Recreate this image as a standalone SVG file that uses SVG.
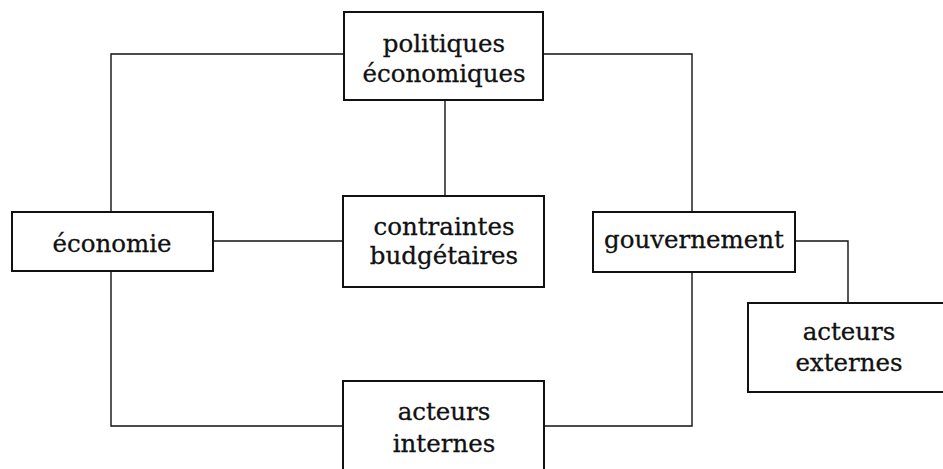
<svg xmlns="http://www.w3.org/2000/svg" width="943" height="469" viewBox="0 0 943 469">
<style>
.box{fill:#fff;stroke:#111;stroke-width:2}
.ln{fill:none;stroke:#111;stroke-width:1.4}
text{font-family:"DejaVu Serif","Liberation Serif",serif;font-size:24.5px;fill:#111;stroke:#111;stroke-width:0.3;text-anchor:middle}
</style>
<rect width="943" height="469" fill="#fff"/>
<g id="connectors">
<path class="ln" d="M344 54H111V212"/>
<path class="ln" d="M543 54H692V212"/>
<path class="ln" d="M445 100V196"/>
<path class="ln" d="M213 241H343"/>
<path class="ln" d="M111 271V426H343"/>
<path class="ln" d="M544 426H692V272"/>
<path class="ln" d="M795 241H848V303"/>
</g>
<g id="politiques">
<rect class="box" x="344" y="12" width="199" height="88"/>
<text x="444" y="52">politiques</text>
<text x="444" y="82">économiques</text>
</g>
<g id="contraintes">
<rect class="box" x="343" y="196" width="201" height="91"/>
<text x="444" y="235">contraintes</text>
<text x="444" y="264">budgétaires</text>
</g>
<g id="economie">
<rect class="box" x="12" y="212" width="201" height="59"/>
<text x="112" y="252">économie</text>
</g>
<g id="gouvernement">
<rect class="box" x="593" y="212" width="202" height="60"/>
<text x="694" y="248">gouvernement</text>
</g>
<g id="acteurs-externes">
<rect class="box" x="748" y="303" width="210" height="89"/>
<text x="849" y="340">acteurs</text>
<text x="849" y="371">externes</text>
</g>
<g id="acteurs-internes">
<rect class="box" x="343" y="381" width="201" height="100"/>
<text x="444" y="420">acteurs</text>
<text x="444" y="452">internes</text>
</g>
</svg>
